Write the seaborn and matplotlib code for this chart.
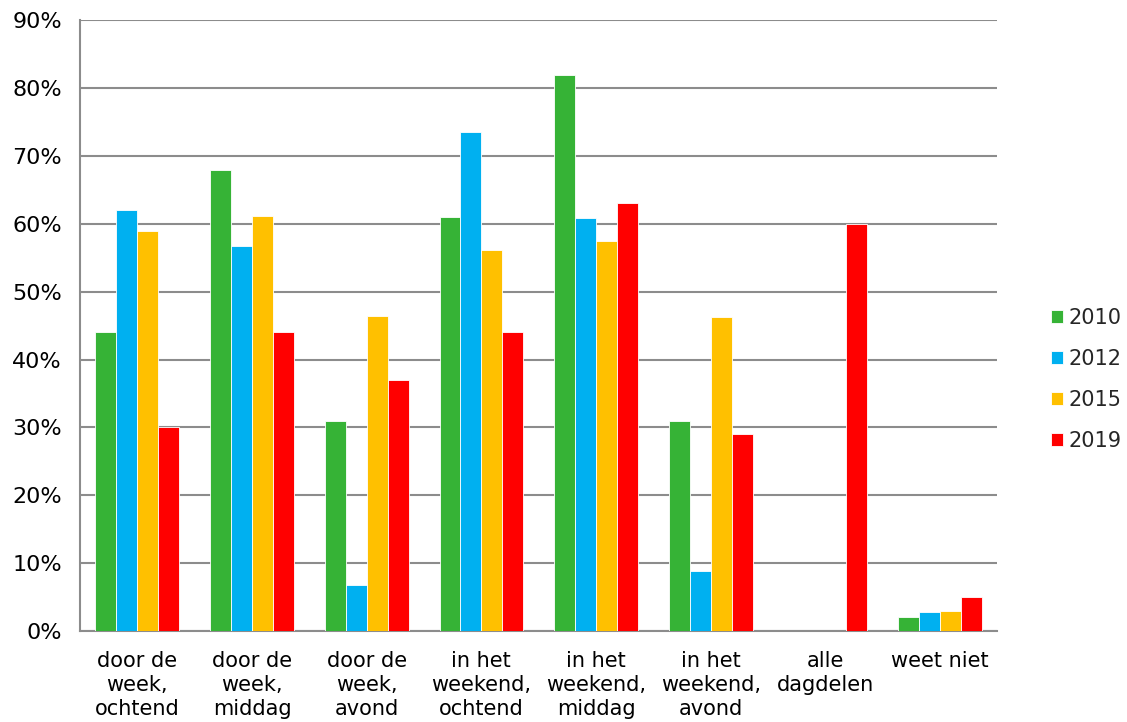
import matplotlib
matplotlib.use("Agg")
import matplotlib.pyplot as plt
import seaborn as sns
import pandas as pd
from matplotlib.ticker import FixedLocator, PercentFormatter

categories = [
    "door de\nweek,\nochtend",
    "door de\nweek,\nmiddag",
    "door de\nweek,\navond",
    "in het\nweekend,\nochtend",
    "in het\nweekend,\nmiddag",
    "in het\nweekend,\navond",
    "alle\ndagdelen",
    "weet niet",
]
years = ["2010", "2012", "2015", "2019"]
values_2010 = [44.0, 68.0, 31.0, 61.0, 82.0, 31.0, 0.0, 2.0]
values_2012 = [62.1, 56.8, 6.8, 73.5, 60.8, 8.8, 0.0, 2.8]
values_2015 = [59.0, 61.2, 46.4, 56.2, 57.5, 46.2, 0.0, 2.9]
values_2019 = [30.0, 44.0, 37.0, 44.0, 63.0, 29.0, 60.0, 5.0]
colors = ["#36B336", "#00B0F0", "#FFC000", "#FF0000"]

rows = []
for year, vals in zip(years, [values_2010, values_2012, values_2015, values_2019]):
    for cat, v in zip(categories, vals):
        rows.append({"moment": cat, "jaar": year, "pct": v})
df = pd.DataFrame(rows)

sns.set_style("white")
plt.rcParams["font.family"] = ["DejaVu Sans"]

fig = plt.figure(figsize=(11.27, 7.22), dpi=100)
ax = fig.add_axes([0.071, 0.126, 0.814, 0.846])

sns.barplot(
    data=df, x="moment", y="pct", hue="jaar",
    order=categories, hue_order=years,
    palette=colors, width=0.73, saturation=1,
    edgecolor="white", linewidth=0.6,
    ax=ax, zorder=3,
)

grid_color = "#8C8C8C"
ax.set_ylim(0, 90)
ax.set_xlim(-0.5, len(categories) - 0.5)
ax.set_yticks(range(0, 91, 10))
ax.yaxis.set_major_formatter(PercentFormatter(decimals=0))
ax.yaxis.grid(True, color=grid_color, linewidth=1.5, zorder=0)
ax.set_axisbelow(True)

ax.xaxis.set_minor_locator(FixedLocator([i - 0.5 for i in range(len(categories) + 1)]))
ax.tick_params(axis="x", which="major", length=0, pad=14.5, labelsize=15, labelcolor="black")
ax.tick_params(axis="x", which="minor", length=6, width=1.5, color=grid_color, direction="out")
ax.tick_params(axis="y", which="major", length=6, width=1.5, color=grid_color, direction="out",
               labelsize=16, pad=7, labelcolor="black")
for lbl in ax.get_xticklabels():
    lbl.set_linespacing(1.25)

for side in ["top", "right"]:
    ax.spines[side].set_visible(False)
for side in ["left", "bottom"]:
    ax.spines[side].set_color(grid_color)
    ax.spines[side].set_linewidth(1.5)

ax.set_xlabel("")
ax.set_ylabel("")

leg = ax.legend(
    loc="center left", bbox_to_anchor=(1.058, 0.412), frameon=False,
    fontsize=15, handlelength=0.6, handleheight=0.6, handletextpad=0.25,
    labelspacing=1.0, borderaxespad=0, borderpad=0,
)

fig.savefig("out.png", dpi=100)
